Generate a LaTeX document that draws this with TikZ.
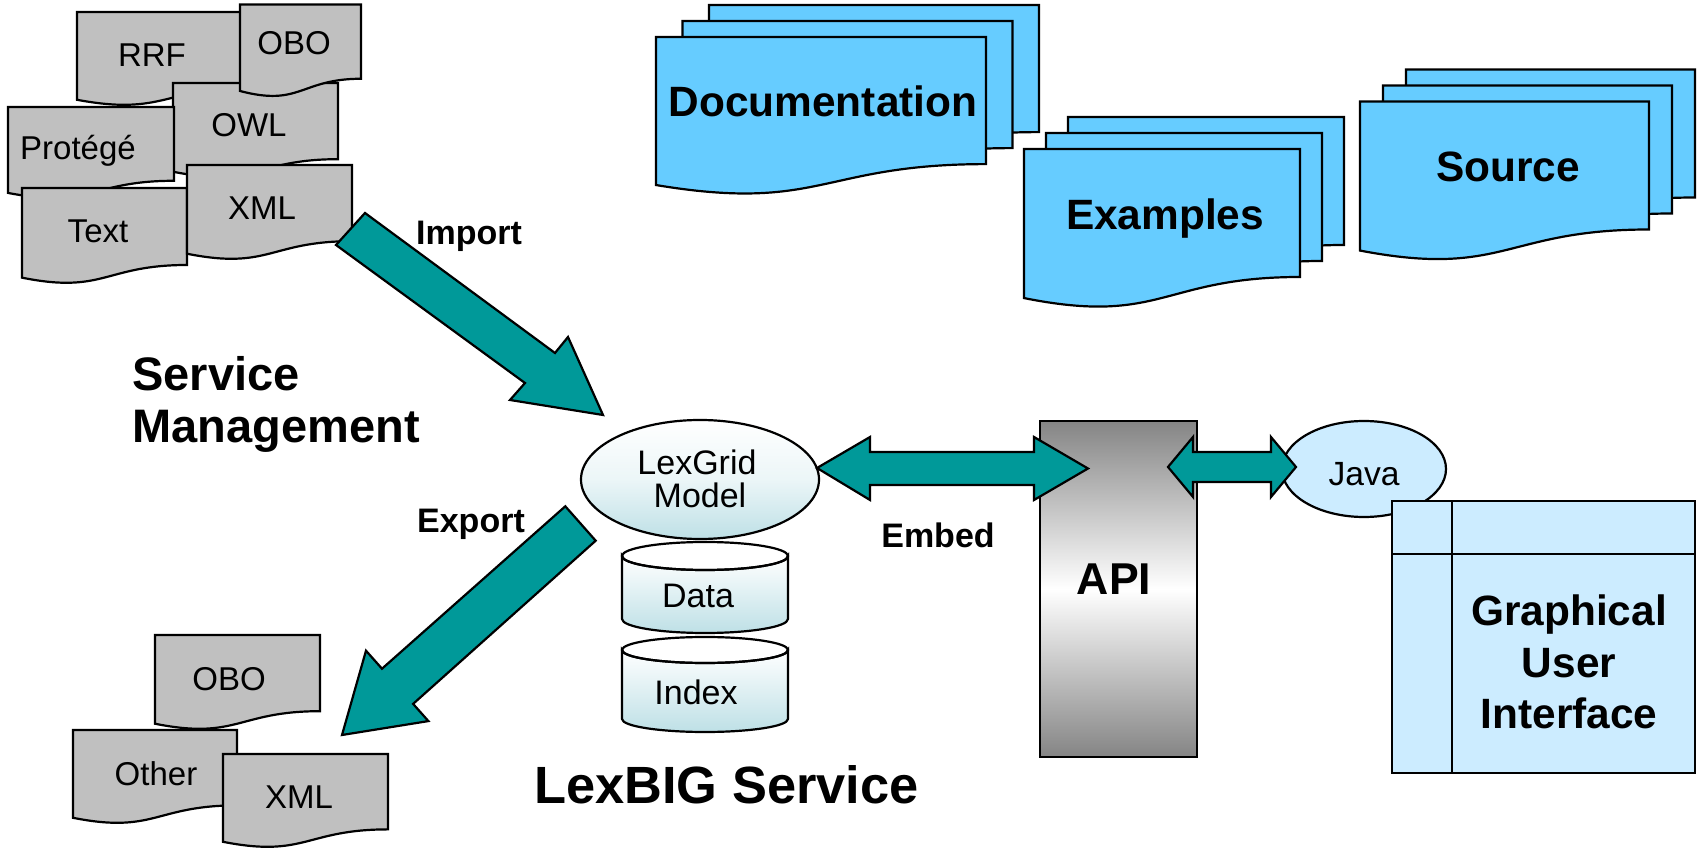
\documentclass[tikz,border=0pt]{standalone}
\usepackage{fontspec}
\setmainfont{Liberation Sans}
\definecolor{docgray}{HTML}{C0C0C0}
\definecolor{docblue}{HTML}{66CCFF}
\definecolor{teal}{HTML}{009999}
\definecolor{paleblue}{HTML}{CCECFF}
\definecolor{paleteal}{HTML}{BEE0E6}
\newcommand\docshape[5]{%
  \path[#1] (#2,#3) -- ({#2+#4},#3) -- ({#2+#4},{#3+0.802*#5})
    .. controls ({#2+#4/2},{#3+0.802*#5}) and ({#2+#4/2},{#3+1.1075*#5}) .. (#2,{#3+0.934*#5}) -- cycle;}
\tikzset{
  outl/.style={draw=black, line width=1.1pt, line join=miter},
  graydoc/.style={outl, fill=docgray},
  bluedoc/.style={outl, fill=docblue},
  blockarrow/.style={outl, fill=teal},
  lbl/.style={inner sep=0pt, anchor=base, font=\fontsize{16.5}{19}\selectfont},
  blbl/.style={inner sep=0pt, anchor=base, font=\fontsize{17}{20}\selectfont\bfseries},
  biglbl/.style={inner sep=0pt, anchor=base, font=\fontsize{21.2}{25}\selectfont\bfseries},
}
\begin{document}
\begin{tikzpicture}[x=0.5pt,y=-0.5pt]
\useasboundingbox (0,0) rectangle (1697,849);
\fill[white] (0,0) rectangle (1697,849);

% ---- input documents (top left)
\docshape{graydoc}{77}{12}{175}{94}
\docshape{graydoc}{173}{83}{165}{95}
\docshape{graydoc}{240}{4.5}{121}{92.6}
\docshape{graydoc}{8}{107}{166}{92}
\docshape{graydoc}{22}{188}{165}{96}
\docshape{graydoc}{187}{165}{165}{95}
\node[lbl] (rrf) at (152,67) {RRF};
\node[lbl] (obo1) at (294,55) {OBO};
\node[lbl] (owl) at (249,137) {OWL};
\node[lbl] (protege) at (78,160) {Protégé};
\node[lbl] (text) at (98,243) {Text};
\node[lbl] (xml1) at (262,220) {XML};

% ---- output documents (bottom left)
\docshape{graydoc}{155}{635}{165}{95}
\docshape{graydoc}{73}{730}{164}{94}
\docshape{graydoc}{223}{754}{165}{94}
\node[lbl] (obo2) at (229,690) {OBO};
\node[lbl] (other) at (156,785) {Other};
\node[lbl] (xml2) at (299,808) {XML};

% ---- blue document stacks
\docshape{bluedoc}{709}{5}{330}{158.5}
\docshape{bluedoc}{682.5}{21}{330}{158.5}
\docshape{bluedoc}{656}{37}{330}{158.5}
\node[biglbl] (doc) at (823,117) {Documentation};

\docshape{bluedoc}{1068}{117}{276}{159.6}
\docshape{bluedoc}{1046}{133}{276}{159.6}
\docshape{bluedoc}{1024}{149}{276}{159.6}
\node[biglbl] (ex) at (1165,230) {Examples};

\docshape{bluedoc}{1406}{69.5}{289}{159.6}
\docshape{bluedoc}{1383}{85.5}{289}{159.6}
\docshape{bluedoc}{1360}{101.5}{289}{159.6}
\node[biglbl] (src) at (1508,182) {Source};

% ---- import arrow
\path[blockarrow] (365,213) -- (555,353) -- (568,337) -- (603,415) -- (510,400) -- (525,383) -- (336,245) -- cycle;
\node[blbl] (imp) at (469,245) {Import};

% ---- LexGrid model and stores
\path[outl, top color=white, bottom color=paleteal, middle color=white!70!paleteal] (700,479.5) ellipse [x radius=119, y radius=59.5];
\node[lbl, font=\fontsize{17}{20}\selectfont] (lexgrid) at (697,475) {LexGrid};
\node[lbl, font=\fontsize{17}{20}\selectfont] (model) at (700,508) {Model};

\path[outl, top color=white, bottom color=paleteal] (622,556) -- (622,619) arc[start angle=180, end angle=0, x radius=83, y radius=14] -- (788,556) arc[start angle=0, end angle=180, x radius=83, y radius=14] -- cycle;
\draw[outl] (705,556) ellipse [x radius=83, y radius=14];
\node[lbl, font=\fontsize{17}{20}\selectfont] (data) at (698,608) {Data};

\path[outl, top color=white, bottom color=paleteal] (622,650) -- (622,719) arc[start angle=180, end angle=0, x radius=83, y radius=13] -- (788,650) arc[start angle=0, end angle=180, x radius=83, y radius=13] -- cycle;
\draw[outl] (705,650) ellipse [x radius=83, y radius=13];
\node[lbl, font=\fontsize{17}{20}\selectfont] (index) at (696,704) {Index};

% ---- export arrow
\path[blockarrow] (565.3,506.3) -- (595.7,540.7) -- (413.1,703.9) -- (428.4,721.1) -- (342,735) -- (366,650.7) -- (382,668.7) -- cycle;
\node[blbl] (exp) at (471,533) {Export};

% ---- labels
\node[inner sep=0pt, anchor=base west, font=\fontsize{23.5}{28}\selectfont\bfseries] (sm1) at (132,391) {Service};
\node[inner sep=0pt, anchor=base west, font=\fontsize{23.5}{28}\selectfont\bfseries] (sm2) at (132,443) {Management};
\node[inner sep=0pt, anchor=base, font=\fontsize{26.2}{30}\selectfont\bfseries] (lexbig) at (726.5,803) {LexBIG Service};

% ---- API
\path[outl, top color=black!48, bottom color=black!48, middle color=white] (1040,421) rectangle (1197,757);
\node[inner sep=0pt, anchor=base, font=\fontsize{22.3}{26}\selectfont\bfseries] (api) at (1114,595) {API};

% ---- embed arrow
\path[blockarrow] (817,468) -- (870,437) -- (870,452) -- (1034,452) -- (1034,437) -- (1088,468.5) -- (1034,500) -- (1034,485) -- (870,485) -- (870,500) -- cycle;
\node[blbl] (emb) at (938,548) {Embed};

% ---- Java
\path[outl, fill=paleblue] (1364,469) ellipse [x radius=82, y radius=48];
\node[lbl, font=\fontsize{16.8}{20}\selectfont] (java) at (1364,486) {Java};
\path[blockarrow] (1168,467) -- (1193,437) -- (1193,452) -- (1271,452) -- (1271,437) -- (1296,467) -- (1271,497) -- (1271,482) -- (1193,482) -- (1193,497) -- cycle;

% ---- GUI
\path[outl, fill=paleblue] (1392,501) rectangle (1695,773);
\draw[outl] (1452,501) -- (1452,773);
\draw[outl] (1392,554) -- (1695,554);
\node[biglbl] (gui1) at (1569,625) {Graphical};
\node[biglbl] (gui2) at (1569,677) {User};
\node[biglbl] (gui3) at (1569,728) {Interface};
\end{tikzpicture}
\end{document}
